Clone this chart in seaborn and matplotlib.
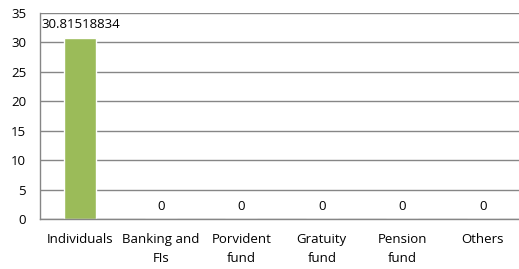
import matplotlib
matplotlib.use("Agg")
import matplotlib.pyplot as plt
import seaborn as sns
import pandas as pd
import numpy as np

categories = ["Individuals", "Banking and\nFIs", "Porvident\nfund", "Gratuity\nfund", "Pension\nfund", "Others"]
values = [30.81518834, 0, 0, 0, 0, 0]
value_labels = ["30.81518834", "0", "0", "0", "0", "0"]

sns.set_theme(style="white")
plt.rcParams['font.family'] = ['Open Sans', 'DejaVu Sans']

W, H = 519, 269
fig = plt.figure(figsize=(W / 100, H / 100), dpi=100)
ax = fig.add_axes([40 / W, 1 - 219 / H, 483 / W, (219 - 13) / H])

df = pd.DataFrame({"cat": categories, "val": values})
sns.barplot(data=df, x="cat", y="val", color="#9BBB59", width=0.4, saturation=1, ax=ax)

ax.set_xlim(-0.5, 5.5)
ax.set_ylim(0, 35)
ax.set_yticks(np.arange(0, 36, 5))
ax.yaxis.grid(True, color="#868686", linewidth=1)
ax.set_axisbelow(True)
ax.set_xlabel("")
ax.set_ylabel("")

for s in ["top", "right"]:
    ax.spines[s].set_visible(False)
for s in ["left", "bottom"]:
    ax.spines[s].set_color("#868686")
    ax.spines[s].set_linewidth(1)

fs = 9.5
ax.set_xticks(np.arange(-0.5, 6, 1), minor=False)
ax.set_xticklabels([])
ax.set_xticks(np.arange(0, 6), minor=True)
ax.set_xticklabels(categories, minor=True, fontsize=fs, color="#000000", linespacing=1.65)
ax.tick_params(axis="x", which="major", length=5, color="#868686", width=1, direction="out")
ax.tick_params(axis="x", which="minor", length=0, pad=10)
ax.tick_params(axis="y", length=4, color="#868686", width=1, direction="out", labelsize=fs, labelcolor="#000000", pad=6)

for i, (v, lab) in enumerate(zip(values, value_labels)):
    ax.annotate(lab, (i, v), xytext=(0, 4.5), textcoords="offset points", ha="center", va="bottom", fontsize=fs, color="#000000")

fig.savefig("out.png", dpi=100)
